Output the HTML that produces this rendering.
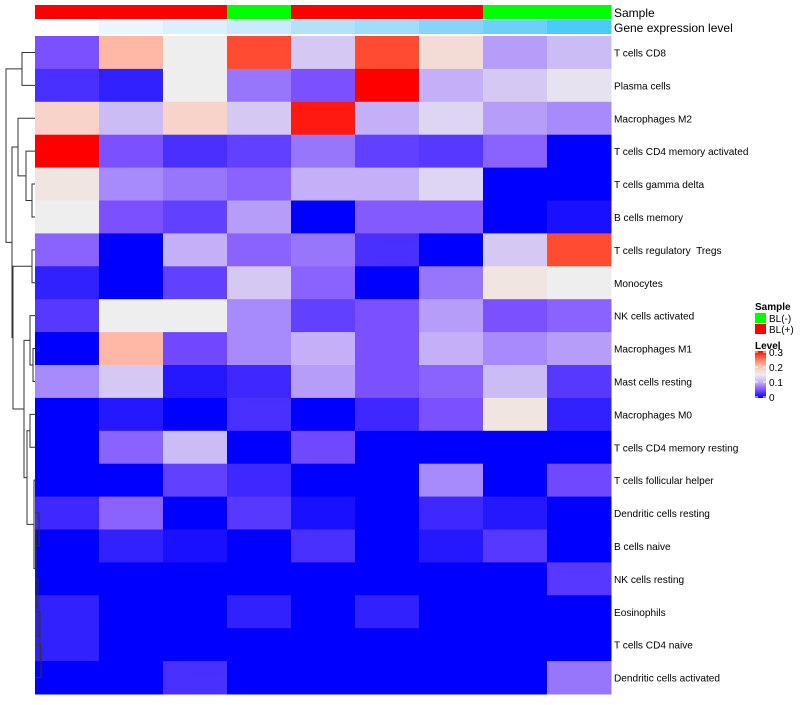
<!DOCTYPE html>
<html><head><meta charset="utf-8"><style>
body{margin:0;background:#fff;font-family:"Liberation Sans",sans-serif}
svg text{font-family:"Liberation Sans",sans-serif;white-space:pre}
</style></head><body>
<svg id="chart" width="800" height="700" xmlns="http://www.w3.org/2000/svg"></svg>
<script>
const rowLabels=["T cells CD8","Plasma cells","Macrophages M2","T cells CD4 memory activated","T cells gamma delta","B cells memory","T cells regulatory  Tregs","Monocytes","NK cells activated","Macrophages M1","Mast cells resting","Macrophages M0","T cells CD4 memory resting","T cells follicular helper","Dendritic cells resting","B cells naive","NK cells resting","Eosinophils","T cells CD4 naive","Dendritic cells activated"];
const sampleGroups=["BL(+)","BL(+)","BL(+)","BL(-)","BL(+)","BL(+)","BL(+)","BL(-)","BL(-)"];
const geneLevels=[0,1,2,3,4,5,6,7,8];
const values=[
[0.05,0.21,0.15,0.27,0.12,0.27,0.17,0.09,0.11],
[0.03,0.02,0.15,0.07,0.05,0.30,0.10,0.12,0.14],
[0.18,0.11,0.18,0.12,0.29,0.10,0.13,0.09,0.08],
[0.30,0.05,0.03,0.04,0.07,0.04,0.035,0.06,0],
[0.16,0.08,0.07,0.06,0.10,0.10,0.13,0,0],
[0.15,0.05,0.04,0.09,0,0.055,0.055,0,0.01],
[0.06,0,0.10,0.06,0.07,0.03,0,0.12,0.27],
[0.02,0,0.04,0.12,0.06,0,0.07,0.16,0.15],
[0.035,0.15,0.15,0.08,0.04,0.05,0.09,0.05,0.06],
[0,0.21,0.045,0.08,0.10,0.05,0.10,0.08,0.09],
[0.08,0.12,0.015,0.025,0.09,0.05,0.06,0.11,0.035],
[0,0.015,0,0.03,0,0.025,0.05,0.16,0.02],
[0,0.06,0.11,0,0.045,0,0,0,0],
[0,0,0.04,0.025,0,0,0.08,0,0.045],
[0.025,0.06,0,0.035,0.01,0,0.025,0.015,0],
[0,0.02,0.01,0,0.03,0,0.015,0.035,0],
[0,0,0,0,0,0,0,0,0.035],
[0.02,0,0,0.02,0,0.02,0,0,0],
[0.02,0,0,0,0,0,0,0,0],
[0,0,0.03,0,0,0,0,0,0.07]];
const levelTicks=[0,0.1,0.2,0.3];

const svg=document.getElementById('chart');const NS="http://www.w3.org/2000/svg";
function mk(t,a,p){const e=document.createElementNS(NS,t);for(const k in a)e.setAttribute(k,a[k]);(p||svg).appendChild(e);return e;}
const X0=35,X1=611,Y0=36,Y1=694;
const cw=(X1-X0)/9,rh=(Y1-Y0)/rowLabels.length;
const xS=i=>X0+i*cw, yS=i=>Y0+i*rh;
const stops=[[0,[0,0,255]],[0.05,[123,80,255]],[0.1,[196,176,248]],[0.15,[238,238,238]],[0.21,[255,184,166]],[0.265,[255,88,58]],[0.3,[255,0,0]]];
function col(v){v=Math.max(0,Math.min(0.3,v));for(let i=1;i<stops.length;i++){if(v<=stops[i][0]){const a=stops[i-1],b=stops[i],t=(v-a[0])/(b[0]-a[0]);return 'rgb('+a[1].map((c,j)=>Math.round(c+(b[1][j]-c)*t)).join(',')+')';}}return 'red';}
const geneCols=["#ffffff","#eaf6fd","#dbf0fc","#cbeafb","#b3e2f8","#a1dcf8","#88d4f8","#6fcff6","#4ccbf6"];
sampleGroups.forEach((g,i)=>{const r=mk('rect',{x:xS(i),y:5,width:cw+0.5,height:14,fill:g==="BL(+)"?"#ff0000":"#00ff00"});

});
geneLevels.forEach((g,i)=>{const r=mk('rect',{x:xS(i),y:20,width:cw+0.5,height:14,fill:geneCols[g]});

});
let t=mk('text',{x:614,y:17,'font-size':12});t.textContent="Sample";


t=mk('text',{x:614,y:32,'font-size':12});t.textContent="Gene expression level";


values.forEach((row,r)=>{row.forEach((v,c)=>{const e=mk('rect',{x:xS(c),y:yS(r),width:cw+0.5,height:rh+0.5,fill:col(v)});

});
const l=mk('text',{x:614,y:yS(r)+rh/2+4,'font-size':10.1});l.textContent=rowLabels[r];

});
// dendrogram
const tree=[6,[22,0,1],[12,[18,2,[26,3,[32,4,5]]],[13,[32,6,7],[24,[30,8,[33,9,10]],[27,[30,11,12],[34,13,[36,[39,14,15],[38,16,[40,17,[41,18,19]]]]]]]]]];
const dg=mk('g',{stroke:'#333','stroke-width':1,fill:'none'});


function draw(n){if(typeof n==='number')return[yS(n)+rh/2,35];const a=draw(n[1]),b=draw(n[2]),x=n[0];
mk('path',{d:`M${a[1]},${a[0]}H${x}V${b[0]}H${b[1]}`},dg);return[(a[0]+b[0])/2,x];}
draw(tree);
// legend
t=mk('text',{x:755,y:310,'font-size':10,'font-weight':'bold'});t.textContent="Sample";

[["#00ff00","BL(-)"],["#ff0000","BL(+)"]].forEach((s,i)=>{const r=mk('rect',{x:755,y:313+i*11,width:11,height:10,fill:s[0]});

const l=mk('text',{x:769,y:322+i*11,'font-size':10});l.textContent=s[1];
});
t=mk('text',{x:755,y:349,'font-size':10,'font-weight':'bold'});t.textContent="Level";

const def=mk('defs',{});const lg=mk('linearGradient',{id:'lg',x1:0,y1:1,x2:0,y2:0},def);
stops.forEach(s=>mk('stop',{offset:s[0]/0.3,'stop-color':col(s[0])},lg));
const cb=mk('rect',{x:755,y:351,width:11,height:47,fill:'url(#lg)'});

levelTicks.forEach(v=>{const y=398-v/0.3*45-1;
mk('line',{x1:755,x2:758,y1:y,y2:y,stroke:'#fff'});mk('line',{x1:763,x2:766,y1:y,y2:y,stroke:'#fff'});
const l=mk('text',{x:769,y:y+4,'font-size':10});l.textContent=String(v);
});
</script>
</body></html>
